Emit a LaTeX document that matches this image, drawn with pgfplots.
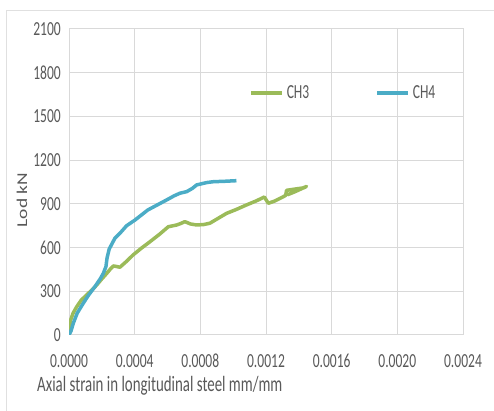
\documentclass[border=0pt]{standalone}
\usepackage{pgfplots}
\pgfplotsset{compat=1.18}
\usepackage{fontspec}
\setmainfont[FakeStretch=0.68]{Carlito}
\newfontfamily\ylabfont[FakeStretch=1.3]{Carlito}
\definecolor{gridc}{HTML}{D9D9D9}
\definecolor{txt}{HTML}{595959}
\definecolor{chg}{HTML}{9BBB59}
\definecolor{chb}{HTML}{4BACC6}
\definecolor{framec}{HTML}{E0E0E0}
\begin{document}
\begin{tikzpicture}
\path[use as bounding box] (0bp,0bp) rectangle (494bp,411bp);
\draw[framec, line width=1bp] (6bp,0bp) -- (6bp,400bp) -- (494bp,400bp);
\begin{axis}[
  at={(69bp,76bp)}, anchor=south west, scale only axis,
  width=394bp, height=306bp,
  xmin=0, xmax=0.0024, ymin=0, ymax=2100,
  scaled x ticks=false, scaled y ticks=false,
  xtick={0,0.0004,0.0008,0.0012,0.0016,0.002,0.0024},
  xticklabels={0.0000,0.0004,0.0008,0.0012,0.0016,0.0020,0.0024},
  ytick={0,300,600,900,1200,1500,1800,2100},
  yticklabels={0,300,600,900,1200,1500,1800,2100},
  /pgf/number format/assume math mode=true,
  grid=major,
  major grid style={gridc, line width=1bp},
  axis line style={gridc, line width=1bp},
  major tick length=0pt,
  tick label style={font=\fontsize{20}{22}\selectfont, text=txt, inner sep=0pt},
  xticklabel style={anchor=north, yshift=-19bp},
  yticklabel style={anchor=east, xshift=-8bp},
  xlabel={Axial strain in longitudinal steel mm/mm},
  xlabel style={at={(axis description cs:-0.0812,-0.1667)}, anchor=west,
    font=\fontsize{22}{24}\selectfont, text=txt, inner sep=0pt},
  ylabel={Lod kN},
  ylabel style={at={(axis description cs:-0.119,0.441)}, anchor=center,
    font=\ylabfont\fontsize{15}{17}\selectfont, text=txt, inner sep=0pt},
  legend style={at={(axis description cs:0.457,0.791)}, anchor=west,
    draw=none, fill=none, inner sep=0pt,
    font=\fontsize{20}{22}\selectfont, text=txt,
    /tikz/every even column/.append style={column sep=66bp},
    /tikz/every odd column/.append style={column sep=3bp},
    nodes={inner sep=0pt}},
  legend columns=2,
  legend image code/.code={\draw[#1, line width=3.5bp] (0bp,0bp) -- (31bp,0bp);},
]
\addplot[chg, line width=3.5bp, line join=round] coordinates {
(0,20) (0.000005,60) (0.00001,103) (0.000025,150) (0.000047,194)
(0.000075,240) (0.000108,275) (0.00014,310) (0.000169,343) (0.0002,385)
(0.00023,423) (0.00025,450) (0.00027,474) (0.00029,470) (0.00031,465)
(0.00035,505) (0.00039,549) (0.00044,595) (0.000493,640) (0.00055,690)
(0.000605,743) (0.000656,755) (0.00068,765) (0.000706,778) (0.00074,762)
(0.000778,755) (0.00082,758) (0.000858,767) (0.0009,795) (0.00096,835)
(0.00102,862) (0.00108,892) (0.00114,920) (0.00119,947) (0.001214,904)
(0.00125,918) (0.00129,940) (0.00132,958) (0.001325,993) (0.00143,1010)
(0.001447,1020) (0.00138,985) (0.00133,962)
};
\addlegendentry{CH3}
\addplot[chb, line width=3.5bp, line join=round] coordinates {
(0,0) (0.000013,30) (0.000026,80) (0.00005,150) (0.000087,218)
(0.00012,275) (0.000158,332) (0.00019,385) (0.000209,423) (0.000225,469)
(0.000232,530) (0.000245,590) (0.00028,665) (0.00031,698) (0.000351,750)
(0.000402,789) (0.00048,858) (0.00055,900) (0.000595,927) (0.00064,955)
(0.000676,973) (0.000717,984) (0.00075,1005) (0.000778,1030) (0.000838,1046)
(0.000879,1052) (0.00095,1055) (0.00102,1059)
};
\addlegendentry{CH4}
\end{axis}
\end{tikzpicture}
\end{document}
